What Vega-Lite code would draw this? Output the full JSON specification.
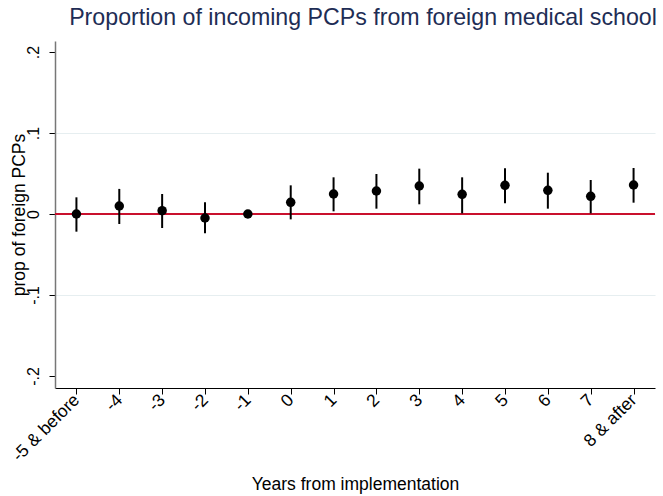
{
  "$schema": "https://vega.github.io/schema/vega-lite/v6.json",
  "width": 600,
  "height": 347,
  "autosize": {"type": "none"},
  "padding": {"left": 55, "top": 41, "right": 8, "bottom": 108},
  "background": "white",
  "config": {
    "view": {"stroke": null},
    "font": "Liberation Sans"
  },
  "title": {
    "text": "Proportion of incoming PCPs from foreign medical school",
    "font": "Liberation Sans",
    "fontSize": 23.2,
    "fontWeight": "normal",
    "color": "#1e2d55",
    "anchor": "middle",
    "dx": 8,
    "offset": 11
  },
  "data": {
    "values": [
      {"year": "-5 & before", "b": 0.0, "lo": -0.0218, "hi": 0.0206},
      {"year": "-4", "b": 0.0099, "lo": -0.0123, "hi": 0.031},
      {"year": "-3", "b": 0.0041, "lo": -0.0173, "hi": 0.0247},
      {"year": "-2", "b": -0.0049, "lo": -0.0239, "hi": 0.0144},
      {"year": "-1", "b": 0.0, "lo": 0.0, "hi": 0.0},
      {"year": "0", "b": 0.0144, "lo": -0.0066, "hi": 0.0354},
      {"year": "1", "b": 0.0247, "lo": 0.0033, "hi": 0.0453},
      {"year": "2", "b": 0.0284, "lo": 0.0066, "hi": 0.0494},
      {"year": "3", "b": 0.0346, "lo": 0.012, "hi": 0.056},
      {"year": "4", "b": 0.0243, "lo": 0.0008, "hi": 0.0453},
      {"year": "5", "b": 0.0354, "lo": 0.0132, "hi": 0.0564},
      {"year": "6", "b": 0.0292, "lo": 0.0066, "hi": 0.051},
      {"year": "7", "b": 0.0218, "lo": 0.0008, "hi": 0.042},
      {"year": "8 & after", "b": 0.0358, "lo": 0.014, "hi": 0.0568}
    ]
  },
  "encoding": {
    "x": {
      "field": "year",
      "type": "ordinal",
      "sort": null,
      "scale": {"type": "point", "padding": 0.5},
      "axis": {
        "title": "Years from implementation",
        "titleFont": "Liberation Sans",
        "titleFontSize": 17.5,
        "titleFontWeight": "normal",
        "titleColor": "black",
        "titlePadding": 11,
        "labelAngle": -45,
        "labelAlign": "right",
        "labelBaseline": "middle",
        "labelFontSize": 17.5,
        "labelColor": "black",
        "labelPadding": 3,
        "tickColor": "black",
        "tickSize": 6,
        "domainColor": "black",
        "grid": false
      }
    }
  },
  "layer": [
    {
      "mark": {"type": "rule", "color": "#c8102e", "strokeWidth": 1.6},
      "encoding": {
        "x": null,
        "y": {"datum": 0, "type": "quantitative"}
      }
    },
    {
      "mark": {"type": "rule", "color": "black", "strokeWidth": 2},
      "encoding": {
        "y": {
          "field": "lo",
          "type": "quantitative",
          "scale": {"domain": [-0.2148, 0.2136], "nice": false, "zero": false},
          "axis": {
            "title": "prop of foreign PCPs",
            "titleFont": "Liberation Sans",
            "titleFontSize": 17.5,
            "titleFontWeight": "normal",
            "titleColor": "black",
            "titlePadding": -3,
            "values": [-0.2, -0.1, 0, 0.1, 0.2],
            "labelExpr": "datum.value > 0.15 ? '.2' : datum.value > 0.05 ? '.1' : datum.value > -0.05 ? '0' : datum.value > -0.15 ? '-.1' : '-.2'",
            "labelAngle": -90,
            "labelAlign": "center",
            "labelBaseline": "bottom",
            "labelFontSize": 16,
            "labelColor": "black",
            "labelPadding": 8,
            "tickColor": "black",
            "tickSize": 6,
            "domainColor": "#777777",
            "domainWidth": 1.5,
            "grid": true,
            "gridColor": "#e6eef0",
            "gridWidth": 1.2,
            "gridOpacity": {"condition": {"test": "abs(datum.value) > 0.15", "value": 0}, "value": 1}
          }
        },
        "y2": {"field": "hi"}
      }
    },
    {
      "mark": {"type": "point", "filled": true, "color": "black", "opacity": 1, "size": 90},
      "encoding": {
        "y": {"field": "b", "type": "quantitative"}
      }
    }
  ]
}
